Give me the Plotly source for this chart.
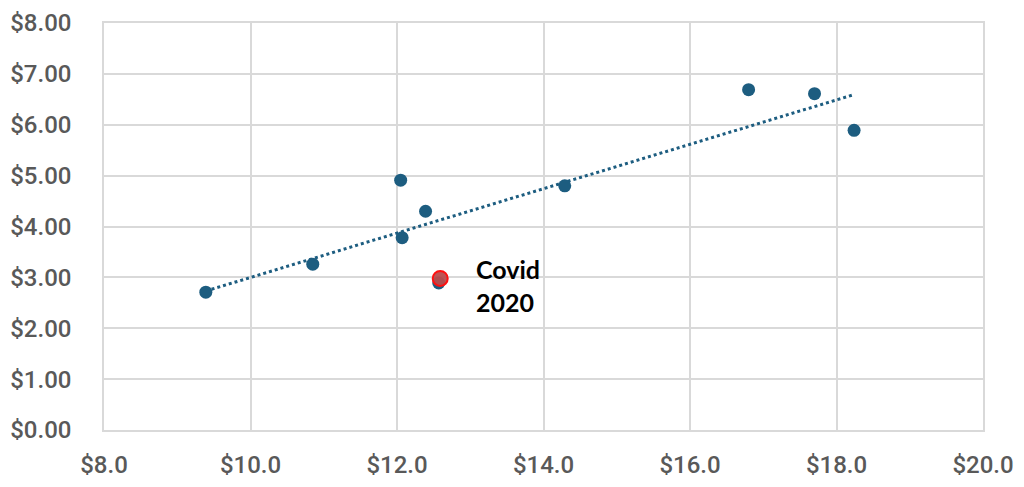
import numpy as np
import plotly.graph_objects as go

# Data
x_vals = [9.39, 10.85, 12.05, 12.07, 12.39, 14.29, 16.80, 17.70, 18.24, 12.57]
y_vals = [2.71, 3.26, 4.91, 3.78, 4.30, 4.80, 6.69, 6.61, 5.89, 2.89]
covid_x = [12.59]
covid_y = [2.98]
covid_label = "Covid<br>2020"

x_ticks = [8, 10, 12, 14, 16, 18, 20]
y_ticks = [0, 1, 2, 3, 4, 5, 6, 7, 8]

blue = "#1D5D80"

# Linear trendline (least squares over all points)
slope, intercept = np.polyfit(x_vals, y_vals, 1)
tx = np.array([min(x_vals), max(x_vals)])
ty = slope * tx + intercept

fig = go.Figure()
fig.add_trace(go.Scatter(x=tx, y=ty, mode="lines",
                         line=dict(color=blue, width=3, dash="dot"),
                         hoverinfo="skip", showlegend=False))
fig.add_trace(go.Scatter(x=x_vals, y=y_vals, mode="markers",
                         marker=dict(color=blue, size=13),
                         showlegend=False))
fig.add_trace(go.Scatter(x=covid_x, y=covid_y, mode="markers",
                         marker=dict(color="rgba(185,75,75,0.95)", size=15,
                                     line=dict(color="#FF1010", width=2)),
                         showlegend=False))
fig.add_annotation(x=covid_x[0], y=covid_y[0], text="<b>" + covid_label + "</b>",
                   showarrow=False, xanchor="left", yanchor="middle",
                   xshift=34, yshift=-7, align="left",
                   font=dict(family="Lato", size=25, color="#000000"))

tickfont = dict(family="Roboto", size=24, color="#595959", weight=500)

fig.update_xaxes(range=[8, 20], tickvals=x_ticks,
                 ticktext=[f"${v:.1f}" for v in x_ticks],
                 showgrid=True, gridcolor="#D9D9D9", gridwidth=1.5,
                 showline=True, linecolor="#D9D9D9", linewidth=1.5, mirror=True,
                 zeroline=False, tickfont=tickfont, ticklabelstandoff=12,
                 automargin=False)
fig.update_yaxes(range=[0, 8], tickvals=y_ticks,
                 ticktext=[f"${v:.2f}" for v in y_ticks],
                 showgrid=True, gridcolor="#D9D9D9", gridwidth=1.5,
                 showline=True, linecolor="#D9D9D9", linewidth=1.5, mirror=True,
                 zeroline=False, tickfont=tickfont, ticklabelstandoff=26,
                 automargin=False)

fig.update_layout(width=1016, height=479,
                  margin=dict(l=96, r=41, t=15, b=57),
                  plot_bgcolor="white", paper_bgcolor="white")

fig.write_html("out.html")
